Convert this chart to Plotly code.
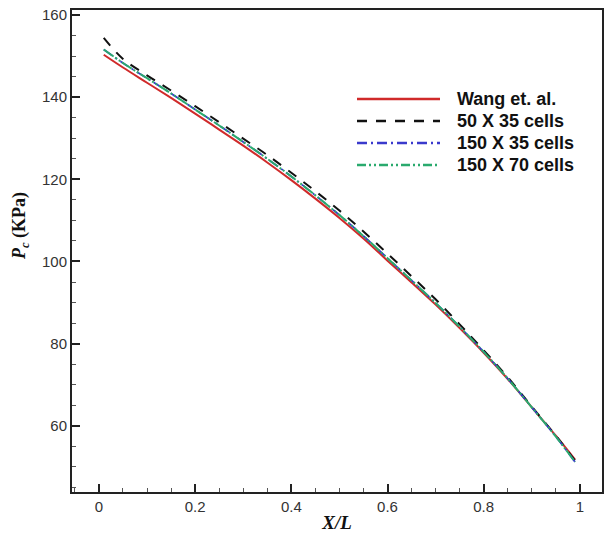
import plotly.graph_objects as go

# ---- data ----
x_vals = [0.01, 0.05, 0.1, 0.15, 0.2, 0.25, 0.3, 0.35, 0.4, 0.45, 0.5,
          0.55, 0.6, 0.65, 0.7, 0.75, 0.8, 0.85, 0.9, 0.95, 0.99]
wang = [150.3, 147.2, 143.5, 139.8, 136.0, 132.1, 128.2, 124.1, 119.8, 115.3, 110.6,
        105.6, 100.2, 94.9, 89.5, 83.8, 77.8, 71.4, 64.5, 57.6, 51.8]
c50x35 = [154.4, 149.3, 145.3, 141.6, 137.8, 133.9, 129.9, 125.9, 121.6, 117.1, 112.4,
          107.3, 101.9, 96.4, 90.8, 84.7, 78.4, 71.8, 64.7, 57.6, 51.5]
c150x35 = [151.6, 148.3, 144.6, 140.9, 137.0, 133.1, 129.1, 125.0, 120.7, 116.1, 111.3,
           106.2, 100.8, 95.4, 89.9, 84.1, 78.0, 71.5, 64.5, 57.4, 51.2]
c150x70 = [151.6, 148.3, 144.6, 140.9, 137.0, 133.1, 129.1, 125.0, 120.7, 116.1, 111.3,
           106.2, 100.8, 95.4, 89.9, 84.1, 78.0, 71.5, 64.5, 57.4, 51.2]

names = ["Wang et. al.", "50 X 35 cells", "150 X 35 cells", "150 X 70 cells"]
series = [wang, c50x35, c150x35, c150x70]
colors = ["#d02a2a", "#111111", "#3a3acc", "#2aaa6e"]
dashes = ["solid", "10px,9px", "10px,4px,2px,4px", "12px,2px,2px,2px,2px,2px"]
widths = [2, 2, 1.8, 2]

x_ticks = [0, 0.2, 0.4, 0.6, 0.8, 1]
x_ticklabels = ["0", "0.2", "0.4", "0.6", "0.8", "1"]
y_ticks = [60, 80, 100, 120, 140, 160]

fig = go.Figure()
for name, ys, c, d, w in zip(names, series, colors, dashes, widths):
    fig.add_trace(go.Scatter(x=x_vals, y=ys, mode="lines", name=name,
                             line=dict(color=c, dash=d, width=w, shape="spline"),
                             showlegend=False))

# custom legend (long line samples like the original)
L, B, W, H = 72, 492, 530, 482
def px(xp):
    return (xp - L) / W
def py(yp):
    return (B - yp) / H

leg_dashes = ["solid", "10px,9px", "10px,4px,2px,4px", "9px,3px,2px,3px,2px,3px"]
rows = [99, 121, 143, 165]
for name, c, d, w, r in zip(names, colors, leg_dashes, widths, rows):
    fig.add_shape(type="line", xref="paper", yref="paper",
                  x0=px(357), x1=px(440), y0=py(r), y1=py(r),
                  line=dict(color=c, dash=d, width=w + 0.5))
    fig.add_annotation(xref="paper", yref="paper", x=px(455), y=py(r),
                       xanchor="left", yanchor="middle", showarrow=False,
                       text="<b>" + name + "</b>",
                       font=dict(family="Liberation Sans, Arial", size=18, color="#111111"))

# y-axis title (placed as in the reference, slightly above centre)
fig.add_annotation(xref="paper", yref="paper", x=px(21), y=py(226),
                   xanchor="center", yanchor="middle", showarrow=False, textangle=-90,
                   text="<b><i>P<sub>c</sub></i> (KPa)</b>",
                   font=dict(family="Liberation Serif, Times New Roman", size=18, color="#111111"))

axis_common = dict(showline=True, linecolor="#222222", linewidth=2, mirror=True,
                   ticks="inside", ticklen=8, tickwidth=2, tickcolor="#222222",
                   showgrid=False, zeroline=False, automargin=False,
                   tickfont=dict(family="Liberation Sans, Arial", size=15, color="#333333"))

fig.update_xaxes(range=[-0.056, 1.046], tickvals=x_ticks, ticktext=x_ticklabels,
                 minor=dict(ticks="inside", ticklen=4, tickwidth=1, dtick=0.05,
                            tickcolor="#555555", showgrid=False),
                 title=dict(text="<b><i>X/L</i></b>", standoff=2,
                            font=dict(family="Liberation Serif, Times New Roman", size=19, color="#111111")),
                 **axis_common)
fig.update_yaxes(range=[43.9, 161.2], tickvals=y_ticks,
                 minor=dict(ticks="inside", ticklen=4, tickwidth=1, dtick=5,
                            tickcolor="#555555", showgrid=False),
                 **axis_common)

fig.update_layout(width=606, height=535, plot_bgcolor="white", paper_bgcolor="white",
                  margin=dict(l=72, r=4, t=10, b=43))

fig.write_html("out.html", config={"displayModeBar": False},
               post_script="document.body.style.margin='0';document.body.style.padding='0';document.body.style.overflow='hidden';")
